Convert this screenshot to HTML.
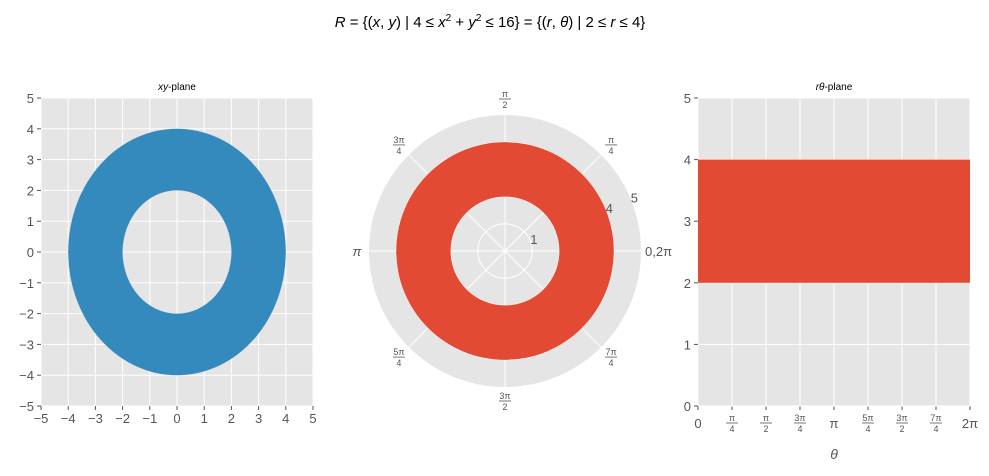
<!DOCTYPE html>
<html><head><meta charset="utf-8"><style>
body{margin:0;background:#fff;}
svg text{font-family:"Liberation Sans","DejaVu Sans",sans-serif;}
</style></head><body>
<svg id="c" width="989" height="471" xmlns="http://www.w3.org/2000/svg">
<text x="490" y="27" font-size="15" text-anchor="middle" fill="#000"><tspan font-style="italic">R</tspan> = {(<tspan font-style="italic">x</tspan>, <tspan font-style="italic">y</tspan>) | 4 ≤ <tspan font-style="italic">x</tspan><tspan font-size="10" dy="-6">2</tspan><tspan dy="6"> + </tspan><tspan font-style="italic">y</tspan><tspan font-size="10" dy="-6">2</tspan><tspan dy="6"> ≤ 16} = {(</tspan><tspan font-style="italic">r</tspan>, <tspan font-style="italic">θ</tspan>) | 2 ≤ <tspan font-style="italic">r</tspan> ≤ 4}</text>
<g id="g1"></g><g id="g2"></g><g id="g3"></g>
</svg>
<script>
const xyTicks=[-5,-4,-3,-2,-1,0,1,2,3,4,5];
const rInner=2, rOuter=4, rMax=5;
const polarRTicks=[1,2,3,4,5];
const polarAngleLabels=["0,2π","π/4","π/2","3π/4","π","5π/4","3π/2","7π/4"];
const thetaTicks=["0","π/4","π/2","3π/4","π","5π/4","3π/2","7π/4","2π"];
const rTicks=[0,1,2,3,4,5];
const NS="http://www.w3.org/2000/svg";
function mk(p,t,a,txt){const e=document.createElementNS(NS,t);for(const k in a)e.setAttribute(k,a[k]);if(txt!==undefined)e.textContent=txt;p.appendChild(e);return e;}
function frac(p,x,y,s,anchor){
  if(s.indexOf('/')<0){const e=mk(p,'text',{x:x,y:y+5,'font-size':13,fill:'#555','text-anchor':anchor||'middle'},s);return e;}
  const [n,d]=s.split('/');
  mk(p,'text',{x:x,y:y-2,'font-size':9,fill:'#555','text-anchor':'middle'},n);
  mk(p,'line',{x1:x-6,x2:x+6,y1:y,y2:y,stroke:'#555','stroke-width':0.8});
  mk(p,'text',{x:x,y:y+9,'font-size':9,fill:'#555','text-anchor':'middle'},d);
}
// Left
(function(){
  const g=document.getElementById('g1');
  const L=41,R=313,T=98,B=406;
  const sx=v=>L+(v+5)/10*(R-L), sy=v=>B-(v+5)/10*(B-T);
  const bg=mk(g,'rect',{x:L,y:T,width:R-L,height:B-T,fill:'#e5e5e5'});
  
  xyTicks.forEach(v=>{
    mk(g,'line',{x1:sx(v),x2:sx(v),y1:T,y2:B,stroke:'#fff','stroke-width':1});
    mk(g,'line',{x1:L,x2:R,y1:sy(v),y2:sy(v),stroke:'#fff','stroke-width':1});
    mk(g,'line',{x1:sx(v),x2:sx(v),y1:B,y2:B+4,stroke:'#555'});
    mk(g,'line',{x1:L-4,x2:L,y1:sy(v),y2:sy(v),stroke:'#555'});
    const tx=mk(g,'text',{x:sx(v),y:B+17,'font-size':13,fill:'#555','text-anchor':'middle'},String(v).replace('-','−'));
    
    const ty=mk(g,'text',{x:L-7,y:sy(v)+5,'font-size':13,fill:'#555','text-anchor':'end'},String(v).replace('-','−'));
    
  });
  const rx=o=>sx(o)-sx(0), ry=o=>sy(0)-sy(o);
  const d=`M${sx(-rOuter)},${sy(0)} A${rx(rOuter)},${ry(rOuter)} 0 1 0 ${sx(rOuter)},${sy(0)} A${rx(rOuter)},${ry(rOuter)} 0 1 0 ${sx(-rOuter)},${sy(0)} Z M${sx(-rInner)},${sy(0)} A${rx(rInner)},${ry(rInner)} 0 1 1 ${sx(rInner)},${sy(0)} A${rx(rInner)},${ry(rInner)} 0 1 1 ${sx(-rInner)},${sy(0)} Z`;
  const a=mk(g,'path',{d:d,fill:'#348abd','fill-rule':'evenodd'});
  
  const t=mk(g,'text',{x:(L+R)/2,y:90,'font-size':10,'text-anchor':'middle'});
  t.innerHTML='<tspan font-style="italic">xy</tspan>-plane';
  
})();
// Polar
(function(){
  const g=document.getElementById('g2');
  const cx=505,cy=251,RR=136;const s=r=>r/rMax*RR;
  const bg=mk(g,'circle',{cx:cx,cy:cy,r:RR,fill:'#e5e5e5'});
  
  polarRTicks.forEach(r=>{if(r<rMax)mk(g,'circle',{cx:cx,cy:cy,r:s(r),fill:'none',stroke:'#fff'});});
  for(let i=0;i<8;i++){const a=i*Math.PI/4;mk(g,'line',{x1:cx,y1:cy,x2:cx+RR*Math.cos(a),y2:cy-RR*Math.sin(a),stroke:'#fff'});}
  const ang=22.5*Math.PI/180;
  const lbl=r=>{const t=mk(g,'text',{x:cx+(s(r)+4)*Math.cos(ang),y:cy-(s(r)+4)*Math.sin(ang)+5,'font-size':13,fill:'#555','text-anchor':'middle'},String(r));
    };
  polarRTicks.forEach(r=>{if(r>rInner&&r<=rOuter-1)lbl(r);if(r===rInner)lbl(r);});
  const d=`M${cx-s(rOuter)},${cy} A${s(rOuter)},${s(rOuter)} 0 1 0 ${cx+s(rOuter)},${cy} A${s(rOuter)},${s(rOuter)} 0 1 0 ${cx-s(rOuter)},${cy} Z M${cx-s(rInner)},${cy} A${s(rInner)},${s(rInner)} 0 1 1 ${cx+s(rInner)},${cy} A${s(rInner)},${s(rInner)} 0 1 1 ${cx-s(rInner)},${cy} Z`;
  const a=mk(g,'path',{d:d,fill:'#e24a33','fill-rule':'evenodd'});
  
  polarRTicks.forEach(r=>{if(r<rInner||r>=rOuter)lbl(r);});
  polarAngleLabels.forEach((lab,i)=>{
    const an=i*Math.PI/4;const rr=RR+14;
    const x=cx+rr*Math.cos(an),y=cy-rr*Math.sin(an);
    if(i===0){const t=mk(g,'text',{x:x-10,y:y+5,'font-size':13,fill:'#555','text-anchor':'start'},lab);}
    else if(i===4){const t=mk(g,'text',{x:x+2,y:y+5,'font-size':13,fill:'#555','text-anchor':'middle','font-style':'italic'},lab);}
    else frac(g,x,i===2?y-2:y,lab);
  });
})();
// Right
(function(){
  const g=document.getElementById('g3');
  const L=698,R=970,T=98,B=406;
  const sx=i=>L+i/8*(R-L), sy=v=>B-v/5*(B-T);
  const bg=mk(g,'rect',{x:L,y:T,width:R-L,height:B-T,fill:'#e5e5e5'});
  
  thetaTicks.forEach((lab,i)=>{
    mk(g,'line',{x1:sx(i),x2:sx(i),y1:T,y2:B,stroke:'#fff'});
    mk(g,'line',{x1:sx(i),x2:sx(i),y1:B,y2:B+4,stroke:'#555'});
    frac(g,sx(i),B+17,lab);
  });
  rTicks.forEach(v=>{
    mk(g,'line',{x1:L,x2:R,y1:sy(v),y2:sy(v),stroke:'#fff'});
    mk(g,'line',{x1:L-4,x2:L,y1:sy(v),y2:sy(v),stroke:'#555'});
    const t=mk(g,'text',{x:L-7,y:sy(v)+5,'font-size':13,fill:'#555','text-anchor':'end'},String(v));
    
  });
  const r=mk(g,'rect',{x:L,y:sy(rOuter),width:R-L,height:sy(rInner)-sy(rOuter),fill:'#e24a33'});
  
  const t=mk(g,'text',{x:(L+R)/2,y:90,'font-size':10,'text-anchor':'middle'});
  t.innerHTML='<tspan font-style="italic">rθ</tspan>-plane';
  
  const xl=mk(g,'text',{x:(L+R)/2,y:459,'font-size':14,fill:'#555','text-anchor':'middle','font-style':'italic'},'θ');
  
})();
</script>
</body></html>
